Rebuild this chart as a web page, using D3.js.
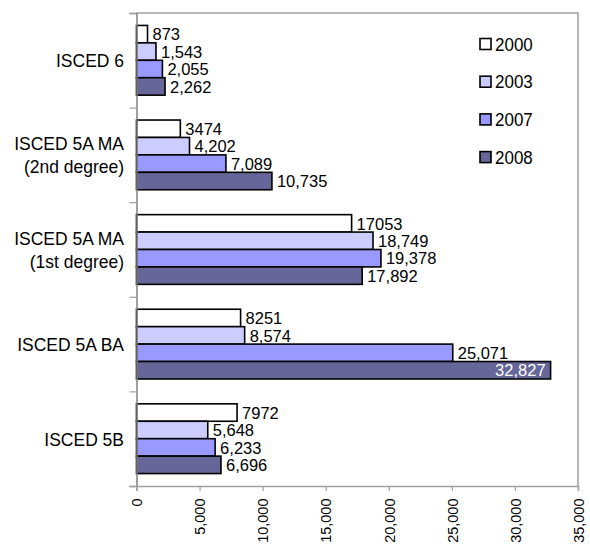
<!DOCTYPE html>
<html>
<head>
<meta charset="utf-8">
<script src="https://cdn.jsdelivr.net/npm/d3@7"></script>
<style>
  html, body { margin: 0; padding: 0; background: #fff; }
  svg { display: block; }
  text { font-family: "Liberation Sans", Arial, sans-serif; fill: #000; }
</style>
</head>
<body>
<svg id="chart" width="590" height="546"></svg>
<script>
// Enrolment by ISCED level, selected years
const categories = [
  ["ISCED 6"],
  ["ISCED 5A MA", "(2nd degree)"],
  ["ISCED 5A MA", "(1st degree)"],
  ["ISCED 5A BA"],
  ["ISCED 5B"]
];
const years = ["2000", "2003", "2007", "2008"];
const values2000 = [873, 3474, 17053, 8251, 7972];
const values2003 = [1543, 4202, 18749, 8574, 5648];
const values2007 = [2055, 7089, 19378, 25071, 6233];
const values2008 = [2262, 10735, 17892, 32827, 6696];
// labels as printed next to each bar
const labels2000 = ["873", "3474", "17053", "8251", "7972"];
const labels2003 = ["1,543", "4,202", "18,749", "8,574", "5,648"];
const labels2007 = ["2,055", "7,089", "19,378", "25,071", "6,233"];
const labels2008 = ["2,262", "10,735", "17,892", "32,827", "6,696"];
const xTicks = [0, 5000, 10000, 15000, 20000, 25000, 30000, 35000];
const colors = ["#ffffff", "#ccccff", "#9999ff", "#666699"];

const seriesValues = [values2000, values2003, values2007, values2008];
const seriesLabels = [labels2000, labels2003, labels2007, labels2008];

// glyphs are drawn slightly tall
const STRETCH = 1.1;

const svg = d3.select("#chart");
const plot = { left: 136.5, right: 578, top: 13, bottom: 486 };

const x = d3.scaleLinear().domain([0, 35000]).range([plot.left, plot.right]);
const y0 = d3.scaleBand()
  .domain(d3.range(categories.length))
  .range([plot.top, plot.bottom])
  .paddingInner(0.263)
  .paddingOuter(0.1315);
const y1 = d3.scaleBand().domain(d3.range(years.length)).range([0, y0.bandwidth()]);

const fmt = d3.format(",");
const place = (px, py, s = STRETCH) => `translate(${px},${py}) scale(1,${s})`;

// plot frame (top and right edges)
svg.append("path")
  .attr("d", `M${plot.left},${plot.top}H${plot.right}V${plot.bottom}`)
  .attr("fill", "none").attr("stroke", "#a0a0a0").attr("stroke-width", 1.5);

// bars
const groups = svg.append("g").selectAll("g")
  .data(categories.map((c, i) => i))
  .join("g")
  .attr("transform", i => `translate(0,${y0(i)})`);

groups.each(function (ci) {
  const g = d3.select(this);
  seriesValues.forEach((vals, si) => {
    const v = vals[ci];
    g.append("rect")
      .attr("x", x(0))
      .attr("y", y1(si))
      .attr("width", x(v) - x(0))
      .attr("height", y1.bandwidth())
      .attr("fill", colors[si])
      .attr("stroke", "#000")
      .attr("stroke-width", 1.6);
    const inside = x(v) + 60 > plot.right;
    g.append("text")
      .attr("transform", place(inside ? x(v) - 5 : x(v) + 5, y1(si) + y1.bandwidth() / 2, 1.04))
      .attr("dy", "0.36em")
      .attr("text-anchor", inside ? "end" : "start")
      .attr("font-size", 16.5)
      .style("fill", inside ? "#fff" : "#000")
      .text(seriesLabels[si][ci]);
  });
});

// category axis
const yAxis = d3.axisLeft(d3.scaleLinear().domain([0, categories.length]).range([plot.top, plot.bottom]))
  .tickValues(d3.range(categories.length + 1))
  .tickSize(7)
  .tickFormat("");
const ya = svg.append("g").attr("transform", `translate(${plot.left},0)`).call(yAxis);
ya.select(".domain").attr("stroke", "#808080").attr("stroke-width", 1.5);
ya.selectAll(".tick line").attr("stroke", "#a0a0a0").attr("stroke-width", 1.2);

// category labels
const catText = svg.append("g").selectAll("g")
  .data(categories)
  .join("g")
  .attr("transform", (d, i) => `translate(124,${y0(i) + y0.bandwidth() / 2})`);
catText.each(function (lines) {
  const g = d3.select(this);
  const lh = 23;
  lines.forEach((line, k) => {
    g.append("text")
      .attr("transform", place(0, (k - (lines.length - 1) / 2) * lh))
      .attr("dy", "0.36em")
      .attr("text-anchor", "end")
      .attr("font-size", 17.5)
      .text(line);
  });
});

// value axis
const xAxis = d3.axisBottom(x).tickValues(xTicks).tickSize(5).tickFormat(fmt);
const xa = svg.append("g").attr("transform", `translate(0,${plot.bottom})`).call(xAxis);
xa.select(".domain").attr("stroke", "#a0a0a0").attr("stroke-width", 1.5);
xa.selectAll(".tick line").attr("stroke", "#a0a0a0").attr("stroke-width", 1.2);
xa.selectAll(".tick text")
  .attr("font-size", 14.5)
  .attr("font-family", '"Liberation Sans", Arial, sans-serif')
  .attr("fill", "#000")
  .attr("text-anchor", "end")
  .attr("transform", "rotate(-90)")
  .attr("x", -12.5)
  .attr("y", 0)
  .attr("dy", "0.36em");

// legend
const legend = svg.append("g").selectAll("g")
  .data(years)
  .join("g")
  .attr("transform", (d, i) => `translate(480,${44 + i * 37.7})`);
legend.append("rect")
  .attr("x", 0).attr("y", -5.5)
  .attr("width", 11).attr("height", 11)
  .attr("fill", (d, i) => colors[i])
  .attr("stroke", "#000").attr("stroke-width", 1.6);
legend.append("text")
  .attr("transform", place(15, 0))
  .attr("dy", "0.36em")
  .attr("font-size", 17)
  .text(d => d);
</script>
</body>
</html>
